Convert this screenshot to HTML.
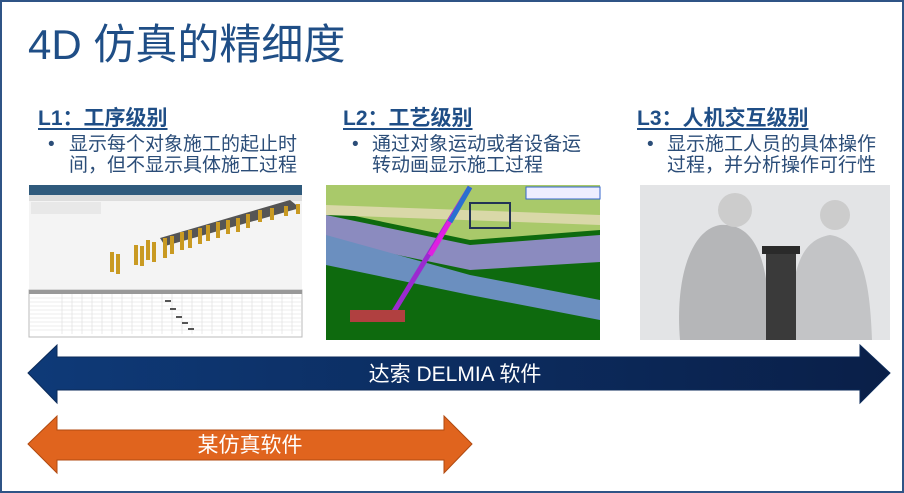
<!DOCTYPE html>
<html><head><meta charset="utf-8"><style>
body{margin:0;width:904px;height:493px;overflow:hidden;background:#fff;position:relative;font-family:"Liberation Sans","Noto Sans CJK SC",sans-serif}
.frame{position:absolute;left:0;top:0;width:900px;height:489px;border:2px solid #2f5486}
.t{position:absolute;white-space:nowrap}
.h{font-size:21px;color:#1f4e86;text-decoration:underline;text-underline-offset:3px;font-weight:bold}
.b{font-size:19px;color:#2b4d78;line-height:21px}
</style></head><body>
<div class="frame"></div>
<div class="t" style="left:28px;top:19px;font-size:42px;color:#1f4e86;line-height:52px">4D 仿真的精细度</div>

<div class="t h" style="left:38px;top:102px">L1：工序级别</div>
<div class="t b" style="left:48px;top:134px">•</div>
<div class="t b" style="left:69px;top:134px">显示每个对象施工的起止时<br>间，但不显示具体施工过程</div>

<div class="t h" style="left:343px;top:102px">L2：工艺级别</div>
<div class="t b" style="left:352px;top:134px">•</div>
<div class="t b" style="left:372px;top:134px">通过对象运动或者设备运<br>转动画显示施工过程</div>

<div class="t h" style="left:637px;top:102px">L3：人机交互级别</div>
<div class="t b" style="left:647px;top:134px">•</div>
<div class="t b" style="left:667px;top:134px">显示施工人员的具体操作<br>过程，并分析操作可行性</div>

<svg width="904" height="493" style="position:absolute;left:0;top:0">
<defs>
<linearGradient id="bg" x1="0" x2="1"><stop offset="0" stop-color="#0e3a78"/><stop offset="1" stop-color="#0a1f48"/></linearGradient>
</defs>
<rect x="29" y="185" width="273" height="152" fill="#f4f4f4"/>
<rect x="29" y="185" width="273" height="10" fill="#2f5a7c"/>
<rect x="29" y="195" width="273" height="6" fill="#ddd"/>
<rect x="31" y="202" width="70" height="12" fill="#e8e8e8"/>
<polygon points="160,238 290,200 300,208 165,246" fill="#555"/>
<g fill="#c99a22">
<rect x="110" y="252" width="4" height="20"/><rect x="116" y="254" width="4" height="20"/>
<rect x="134" y="245" width="4" height="20"/><rect x="140" y="246" width="4" height="20"/>
<rect x="146" y="240" width="4" height="20"/><rect x="152" y="242" width="4" height="20"/>
<rect x="163" y="238" width="4" height="20"/><rect x="170" y="236" width="4" height="18"/>
<rect x="180" y="232" width="4" height="18"/><rect x="188" y="230" width="4" height="18"/>
<rect x="198" y="228" width="4" height="16"/><rect x="206" y="225" width="4" height="16"/>
<rect x="216" y="222" width="4" height="16"/><rect x="226" y="220" width="4" height="14"/>
<rect x="236" y="218" width="4" height="14"/><rect x="246" y="214" width="4" height="14"/>
<rect x="258" y="210" width="4" height="12"/><rect x="270" y="208" width="4" height="12"/>
<rect x="284" y="206" width="4" height="10"/><rect x="296" y="204" width="4" height="10"/>
</g>
<rect x="29" y="290" width="273" height="47" fill="#fff" stroke="#bbb"/>
<rect x="29" y="290" width="273" height="4" fill="#999"/>
<g stroke="#ddd" stroke-width="0.6">
<path d="M30 298H301M30 302H301M30 306H301M30 310H301M30 314H301M30 318H301M30 322H301M30 326H301M30 330H301"/>
<path d="M62 294V334M72 294V334M82 294V334M92 294V334M102 294V334M112 294V334M122 294V334M132 294V334M142 294V334M152 294V334M162 294V334M172 294V334M182 294V334M192 294V334M202 294V334M212 294V334M222 294V334M232 294V334M242 294V334M252 294V334M262 294V334M272 294V334M282 294V334M292 294V334"/>
</g>
<g fill="#555"><rect x="165" y="300" width="6" height="2"/><rect x="170" y="308" width="6" height="2"/><rect x="176" y="316" width="6" height="2"/><rect x="182" y="322" width="6" height="2"/><rect x="188" y="328" width="6" height="2"/></g>

<rect x="326" y="185" width="274" height="155" fill="#0e6a0e"/>
<polygon points="326,185 600,185 600,230 470,240 326,210" fill="#a9c96a"/>
<polygon points="326,215 470,245 600,235 600,262 470,270 326,240" fill="#8b8bbf"/>
<polygon points="326,235 470,275 600,300 600,320 470,295 326,265" fill="#6b8fbf"/>
<polygon points="326,205 600,215 600,225 326,215" fill="#d9d8a8"/>
<rect x="526" y="187" width="74" height="12" fill="#eef" stroke="#3366cc"/>
<rect x="470" y="203" width="40" height="25" fill="none" stroke="#235" stroke-width="2"/>
<line x1="393" y1="313" x2="470" y2="187" stroke="#9b2ad0" stroke-width="5"/>
<line x1="430" y1="255" x2="470" y2="187" stroke="#e020e0" stroke-width="5"/>
<line x1="450" y1="222" x2="470" y2="187" stroke="#2a70d0" stroke-width="5"/>
<rect x="350" y="310" width="55" height="12" fill="#b04040"/>

<rect x="640" y="185" width="250" height="155" fill="#e3e4e6"/>
<path d="M680 340 C675 280 690 230 720 225 C760 222 770 270 770 340Z" fill="#b5b6b8"/>
<circle cx="735" cy="210" r="17" fill="#ccc"/>
<path d="M790 340 C790 270 800 240 830 235 C865 240 870 290 872 340Z" fill="#c3c4c6"/>
<circle cx="835" cy="215" r="15" fill="#ccc"/>
<rect x="766" y="250" width="30" height="90" fill="#3a3a3a"/>
<rect x="762" y="246" width="38" height="8" fill="#2a2a2a"/>

<polygon points="28,373 57,345 57,357 860,357 860,345 890,373 860,403 860,390 57,390 57,403" fill="url(#bg)" stroke="#0b2a58"/>
<text x="455" y="381" fill="#fff" font-size="21" text-anchor="middle" font-family="Liberation Sans, Noto Sans CJK SC, sans-serif">达索 DELMIA 软件</text>
<polygon points="28,444 57,416 57,430 444,430 444,416 472,444 444,473 444,460 57,460 57,473" fill="#e0641e" stroke="#b04a10"/>
<text x="250" y="452" fill="#fff" font-size="21" text-anchor="middle" font-family="Liberation Sans, Noto Sans CJK SC, sans-serif">某仿真软件</text>
</svg>
</body></html>
